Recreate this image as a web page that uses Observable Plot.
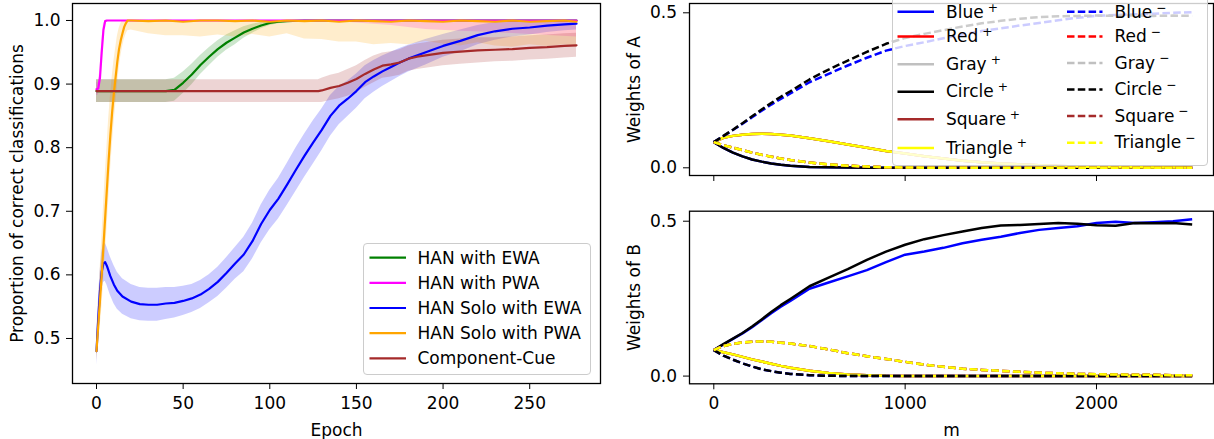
<!DOCTYPE html>
<html>
<head>
<meta charset="utf-8">
<script src="https://cdn.jsdelivr.net/npm/d3@7"></script>
<script src="https://cdn.jsdelivr.net/npm/@observablehq/plot@0.6"></script>
<style>
html,body{margin:0;padding:0;background:#fff;}
#fig{position:relative;width:1214px;height:439px;overflow:hidden;font-family:"DejaVu Sans",sans-serif;color:#000;}
.panel{position:absolute;}
.legend{position:absolute;box-sizing:border-box;background:rgba(255,255,255,0.8);border:1px solid #cccccc;border-radius:4px;font-size:17px;}
.legend .lab{position:absolute;line-height:19px;white-space:nowrap;}
.legend sup{font-size:0.72em;line-height:1;vertical-align:0;position:relative;top:-0.5em;margin-left:4px;}
.legend svg{position:absolute;left:0;top:0;overflow:visible;}
</style>
</head>
<body>
<div id="fig"></div>
<script>
// ---------------- Left panel data ----------------
const epochTicks = [0, 50, 100, 150, 200, 250];
const propTicks = [0.5, 0.6, 0.7, 0.8, 0.9, 1.0];

const greenEpoch = [0,10,20,30,40,45,50,55,60,65,70,75,80,85,90,95,100,105,110,120,140,170,200,240,277];
const greenMean  = [0.889,0.889,0.889,0.889,0.889,0.891,0.902,0.915,0.930,0.943,0.955,0.965,0.973,0.981,0.987,0.992,0.996,0.998,0.999,1.0,1.0,1.0,1.0,1.0,1.0];
const greenSd    = [0.018,0.018,0.018,0.018,0.018,0.018,0.017,0.016,0.015,0.014,0.013,0.012,0.011,0.009,0.007,0.005,0.004,0.003,0.002,0.001,0,0,0,0,0];

const magentaEpoch = [0,1,2,3,4,5,6,20,60,100,130,150,170,190,210,230,250,277];
const magentaMean  = [0.892,0.893,0.91,0.95,0.985,0.999,1,1,1,1,1,1,1,1,1,1,1,1];
const magentaSd    = [0.01,0.01,0.012,0.015,0.01,0.002,0,0,0,0,0.001,0.004,0.008,0.014,0.017,0.019,0.022,0.026];

const blueEpoch = [0,1,2,3,4,5,6,8,10,12,15,20,25,30,35,40,45,50,55,60,65,70,75,80,85,90,95,100,105,110,115,120,125,130,135,140,145,150,155,160,165,170,175,180,190,200,210,220,230,240,250,260,270,277];
const blueMean  = [0.48,0.53,0.575,0.605,0.618,0.62,0.614,0.598,0.585,0.575,0.566,0.558,0.554,0.553,0.553,0.555,0.556,0.559,0.563,0.569,0.578,0.589,0.603,0.618,0.632,0.653,0.68,0.702,0.72,0.742,0.765,0.787,0.808,0.828,0.85,0.866,0.877,0.889,0.903,0.912,0.92,0.927,0.934,0.94,0.95,0.96,0.968,0.977,0.983,0.987,0.989,0.992,0.994,0.995];
const blueSd    = [0.022,0.025,0.028,0.03,0.03,0.03,0.03,0.03,0.03,0.029,0.028,0.027,0.026,0.026,0.026,0.025,0.024,0.023,0.022,0.022,0.022,0.023,0.024,0.025,0.027,0.028,0.03,0.031,0.032,0.033,0.034,0.034,0.034,0.033,0.032,0.03,0.028,0.027,0.026,0.025,0.024,0.023,0.022,0.021,0.02,0.018,0.017,0.015,0.014,0.013,0.012,0.011,0.01,0.01];

const orangeEpoch = [0,1,2,3,4,5,6,7,8,9,10,11,12,13,14,15,16,17,18,20,30,40,50,60,70,80,90,100,110,120,130,140,150,160,170,180,190,200,210,220,230,240,250,260,270,277];
const orangeMean  = [0.48,0.52,0.56,0.6,0.645,0.69,0.735,0.78,0.82,0.855,0.885,0.91,0.935,0.955,0.969,0.98,0.99,0.996,1.0,
                     1.0,0.999,1.0,0.998,1.0,1.0,0.999,1.0,0.998,1.0,0.999,1.0,0.998,1.0,0.999,0.998,1.0,0.999,0.998,1.0,0.999,0.998,1.0,0.998,0.999,1.0,0.998];
const orangeSd    = [0.015,0.03,0.045,0.055,0.06,0.065,0.065,0.065,0.06,0.055,0.05,0.045,0.04,0.032,0.026,0.022,0.02,0.018,0.016,
                     0.015,0.02,0.024,0.022,0.026,0.023,0.025,0.022,0.024,0.021,0.028,0.03,0.032,0.034,0.037,0.034,0.038,0.032,0.035,0.04,0.034,0.038,0.042,0.036,0.04,0.038,0.04];

const brownEpoch = [0,20,40,60,80,100,120,128,130,135,140,145,150,155,160,165,170,175,180,185,190,200,210,220,230,240,250,260,270,277];
const brownMean  = [0.889,0.889,0.889,0.889,0.889,0.889,0.889,0.889,0.89,0.894,0.897,0.902,0.908,0.916,0.923,0.929,0.931,0.934,0.94,0.943,0.945,0.949,0.951,0.953,0.954,0.955,0.957,0.958,0.96,0.961];
const brownSd    = [0.018,0.018,0.018,0.018,0.018,0.018,0.018,0.018,0.019,0.02,0.02,0.021,0.021,0.021,0.021,0.02,0.02,0.02,0.02,0.02,0.02,0.02,0.02,0.02,0.019,0.019,0.019,0.019,0.019,0.019];

const leftNames  = ["HAN with EWA", "HAN with PWA", "HAN Solo with EWA", "HAN Solo with PWA", "Component-Cue"];
const leftColors = ["green", "magenta", "blue", "orange", "brown"];

// ---------------- Right panels data ----------------
const mTicks = [0, 1000, 2000];
const weightTicks = [0.0, 0.5];
const mGrid = [0,50,100,150,200,250,300,350,400,500,600,700,800,900,1000,1100,1200,1300,1400,1500,1600,1700,1800,1900,2000,2100,2200,2300,2400,2500];

// Weights of A
const weightA_risingCircle = [0.083,0.103,0.123,0.144,0.166,0.188,0.209,0.229,0.247,0.285,0.317,0.346,0.374,0.4,0.419,0.432,0.444,0.456,0.466,0.474,0.481,0.486,0.489,0.49,0.491,0.49,0.492,0.49,0.491,0.49];
const weightA_risingBlue   = [0.083,0.102,0.122,0.142,0.163,0.184,0.204,0.222,0.24,0.276,0.303,0.33,0.355,0.378,0.393,0.405,0.418,0.43,0.441,0.45,0.459,0.467,0.476,0.484,0.49,0.493,0.495,0.497,0.5,0.502];
const weightA_hump         = [0.083,0.097,0.103,0.107,0.109,0.11,0.109,0.107,0.104,0.095,0.086,0.075,0.065,0.054,0.046,0.037,0.03,0.023,0.018,0.014,0.011,0.008,0.006,0.004,0.003,0.002,0.0015,0.001,0.001,0.0005];
const weightA_fastDecay    = [0.083,0.064,0.049,0.037,0.027,0.02,0.014,0.01,0.007,0.003,0.0015,0.0007,0.0003,0,0,0,0,0,0,0,0,0,0,0,0,0,0,0,0,0];
const weightA_slowDecay    = [0.083,0.073,0.065,0.057,0.049,0.042,0.036,0.03,0.025,0.017,0.011,0.007,0.004,0.002,0.001,0.0005,0,0,0,0,0,0,0,0,0,0,0,0,0,0];

// Weights of B
const weightB_risingCircle = [0.084,0.103,0.121,0.139,0.16,0.183,0.207,0.229,0.249,0.29,0.318,0.345,0.375,0.402,0.424,0.442,0.455,0.467,0.478,0.486,0.488,0.491,0.494,0.492,0.487,0.485,0.494,0.493,0.494,0.489];
const weightB_risingBlue   = [0.084,0.102,0.12,0.138,0.158,0.18,0.203,0.224,0.243,0.282,0.302,0.322,0.342,0.368,0.392,0.402,0.414,0.429,0.44,0.45,0.462,0.472,0.478,0.484,0.494,0.498,0.494,0.497,0.5,0.506];
const weightB_hump         = [0.084,0.097,0.104,0.109,0.111,0.112,0.111,0.108,0.105,0.097,0.086,0.074,0.064,0.055,0.046,0.037,0.03,0.024,0.02,0.017,0.014,0.011,0.009,0.007,0.006,0.005,0.004,0.004,0.003,0.003];
const weightB_fastDecay    = [0.084,0.066,0.053,0.041,0.031,0.022,0.016,0.011,0.007,0.003,0.001,0.0003,0,0,0,0,0,0,0,0,0,0,0,0,0,0,0,0,0,0];
const weightB_slowDecay    = [0.084,0.077,0.07,0.062,0.054,0.047,0.04,0.033,0.027,0.017,0.01,0.005,0.003,0.001,0.0005,0,0,0,0,0,0,0,0,0,0,0,0,0,0,0];

const features = ["Blue", "Red", "Gray", "Circle", "Square", "Triangle"];
const featureColors = ["blue", "red", "silver", "black", "brown", "yellow"];
const curvesA = {
  plus:  [weightA_fastDecay, weightA_hump, weightA_hump, weightA_fastDecay, weightA_hump, weightA_hump],
  minus: [weightA_risingBlue, weightA_slowDecay, weightA_slowDecay, weightA_risingCircle, weightA_slowDecay, weightA_slowDecay]
};
const curvesB = {
  plus:  [weightB_risingBlue, weightB_slowDecay, weightB_slowDecay, weightB_risingCircle, weightB_slowDecay, weightB_slowDecay],
  minus: [weightB_fastDecay, weightB_hump, weightB_hump, weightB_fastDecay, weightB_hump, weightB_hump]
};

// ---------------- Build ----------------
const fig = document.getElementById("fig");
const FONT = "DejaVu Sans";
const baseStyle = {fontFamily: FONT, fontSize: "17px", color: "black", background: "transparent", overflow: "visible"};

function place(el, left, top) {
  const d = document.createElement("div");
  d.className = "panel";
  d.style.left = left + "px";
  d.style.top = top + "px";
  d.appendChild(el);
  fig.appendChild(d);
}

const band = (E, M, S) => E.map((e, i) => ({x: e, y: M[i], lo: M[i] - S[i], hi: Math.min(1, M[i] + S[i])}));
const leftData = [
  band(greenEpoch, greenMean, greenSd),
  band(magentaEpoch, magentaMean, magentaSd),
  band(blueEpoch, blueMean, blueSd),
  band(orangeEpoch, orangeMean, orangeSd),
  band(brownEpoch, brownMean, brownSd)
];

const leftPlot = Plot.plot({
  width: 610, height: 439,
  marginLeft: 72, marginRight: 10, marginTop: 3, marginBottom: 56,
  style: baseStyle,
  x: {domain: [-13.85, 290.85]},
  y: {domain: [0.4292, 1.0267]},
  marks: [
    ...leftData.map((rows, i) => Plot.areaY(rows, {x: "x", y1: "lo", y2: "hi", fill: leftColors[i], fillOpacity: 0.2})),
    ...leftData.map((rows, i) => Plot.lineY(rows, {x: "x", y: "y", stroke: leftColors[i], strokeWidth: 2.2})),
    Plot.frame({stroke: "black", strokeWidth: 1.3}),
    Plot.axisX({ticks: epochTicks, tickSize: 6, tickPadding: 7, label: "Epoch", labelAnchor: "center", labelArrow: "none", labelOffset: 52}),
    Plot.axisY({ticks: propTicks, tickFormat: ".1f", tickSize: 6, tickPadding: 6, label: "Proportion of correct classifications", labelAnchor: "center", labelArrow: "none", labelOffset: 62})
  ]
});
place(leftPlot, 0, 0);

function weightRows(arr) { return mGrid.map((m, i) => ({m, w: arr[i]})); }

function rightPlot(curves, opts) {
  const marks = [];
  ["plus", "minus"].forEach(sign => {
    curves[sign].forEach((arr, i) => {
      marks.push(Plot.lineY(weightRows(arr), {
        x: "m", y: "w", stroke: featureColors[i], strokeWidth: 2.5,
        strokeDasharray: sign === "minus" ? "7.5,3.3" : null,
        strokeLinecap: "butt"
      }));
    });
  });
  return Plot.plot({
    width: 604, height: opts.height,
    marginLeft: 79, marginRight: 1, marginTop: opts.mt, marginBottom: opts.mb,
    style: baseStyle,
    x: {domain: [-127, 2611.5]},
    y: {domain: opts.yd},
    marks: [
      ...marks,
      Plot.frame({stroke: "black", strokeWidth: 1.3}),
      Plot.axisX({ticks: mTicks, tickSize: 6, tickPadding: 7,
        tickFormat: opts.xlabels ? (d => d3.format("d")(d)) : (() => ""),
        label: opts.xlabel, labelAnchor: "center", labelArrow: "none", labelOffset: 52}),
      Plot.axisY({ticks: weightTicks, tickFormat: ".1f", tickSize: 6, tickPadding: 6.5,
        label: opts.ylabel, labelAnchor: "center", labelArrow: "none", labelOffset: 62})
    ]
  });
}

place(rightPlot(curvesA, {height: 200, mt: 3, mb: 25, yd: [-0.0248, 0.530], xlabels: false, xlabel: null, ylabel: "Weights of A"}), 610, 0);
place(rightPlot(curvesB, {height: 239, mt: 10.7, mb: 55.7, yd: [-0.0249, 0.5323], xlabels: true, xlabel: "m", ylabel: "Weights of B"}), 610, 200);

// ---------------- Legends ----------------
const SVGNS = "http://www.w3.org/2000/svg";
function makeLegend(box, rows) {
  const lg = document.createElement("div");
  lg.className = "legend";
  Object.assign(lg.style, {left: box.left + "px", top: box.top + "px", width: box.width + "px", height: box.height + "px"});
  const svg = document.createElementNS(SVGNS, "svg");
  svg.setAttribute("width", box.width);
  svg.setAttribute("height", box.height);
  lg.appendChild(svg);
  const ox = box.left + 1, oy = box.top + 1;
  rows.forEach(r => {
    const ln = document.createElementNS(SVGNS, "line");
    ln.setAttribute("x1", r.x0 - ox); ln.setAttribute("x2", r.x1 - ox);
    ln.setAttribute("y1", r.y - oy); ln.setAttribute("y2", r.y - oy);
    ln.setAttribute("stroke", r.color);
    ln.setAttribute("stroke-width", r.sw);
    if (r.dash) ln.setAttribute("stroke-dasharray", r.dash);
    svg.appendChild(ln);
    const t = document.createElement("div");
    t.className = "lab";
    t.style.left = (r.tx - ox) + "px";
    t.style.top = (r.y - oy - r.lift) + "px";
    t.textContent = r.label;
    if (r.sup) { const s = document.createElement("sup"); s.textContent = r.sup; t.appendChild(s); }
    lg.appendChild(t);
  });
  fig.appendChild(lg);
}

// left legend
makeLegend({left: 363, top: 243, width: 228, height: 132},
  leftNames.map((name, i) => ({label: name, color: leftColors[i], sw: 2.2, x0: 369.5, x1: 406, tx: 417.5, y: 257.7 + 25.15 * i, lift: 9}))
);

// right legend (two columns: + and −)
const plusRowY = [11.7, 36.5, 64.3, 91.7, 119.3, 148];
const minusRowY = [11.7, 36.5, 63, 89.5, 116, 142.7];
const rightRows = [];
features.forEach((f, i) => rightRows.push({label: f, sup: "+", color: featureColors[i], sw: 2.5, x0: 897, x1: 933.5, tx: 946, y: plusRowY[i], lift: i === 0 ? 8.5 : 9.5}));
features.forEach((f, i) => rightRows.push({label: f, sup: "\u2212", color: featureColors[i], sw: 2.5, dash: "7.5,3.3", x0: 1066.5, x1: 1102, tx: 1114.5, y: minusRowY[i], lift: i === 0 ? 8.5 : 9.5}));
makeLegend({left: 891.5, top: -10, width: 316, height: 176}, rightRows);
</script>
</body>
</html>
